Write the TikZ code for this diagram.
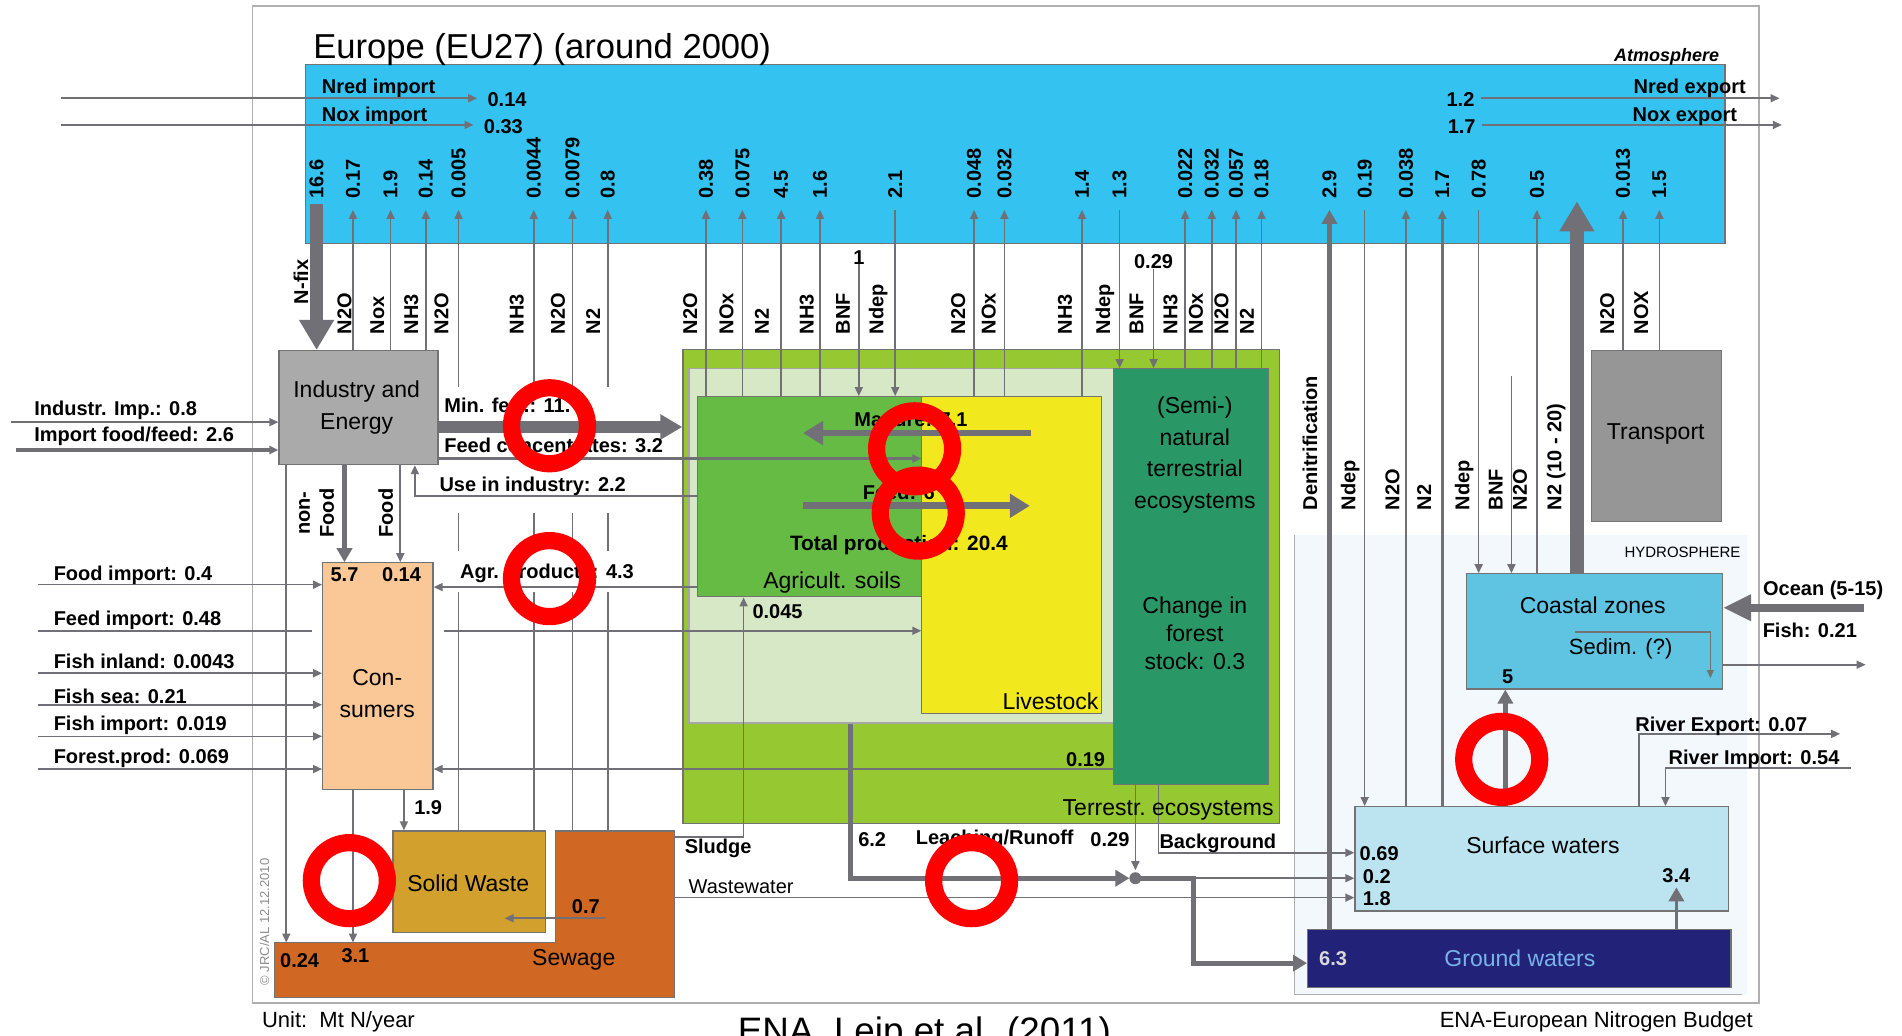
\documentclass[tikz,border=0pt]{standalone}
\usepackage{fontspec}
\setmainfont{Liberation Sans}
\usetikzlibrary{arrows.meta,fit}
\definecolor{atmblue}{RGB}{52,195,240}
\definecolor{indgray}{RGB}{170,170,170}
\definecolor{trgray}{RGB}{150,150,150}
\definecolor{flowgray}{RGB}{112,112,118}
\definecolor{consum}{RGB}{250,200,150}
\definecolor{waste}{RGB}{210,160,45}
\definecolor{sewage}{RGB}{208,104,36}
\definecolor{terr}{RGB}{150,200,50}
\definecolor{agpale}{RGB}{214,232,198}
\definecolor{soil}{RGB}{102,187,68}
\definecolor{livest}{RGB}{242,232,30}
\definecolor{seminat}{RGB}{42,152,102}
\definecolor{coast}{RGB}{95,196,225}
\definecolor{surfw}{RGB}{188,228,240}
\definecolor{groundw}{RGB}{34,34,120}
\definecolor{gwtext}{RGB}{120,180,235}
\definecolor{hydro}{RGB}{243,248,252}
\definecolor{framegray}{RGB}{175,175,175}
\definecolor{ringred}{RGB}{255,0,0}
\tikzset{
  box/.style   ={draw=black!55,line width=0.6pt,inner sep=0pt},
  fl/.style    ={draw=flowgray,line width=0.8pt},
  ar/.style    ={fl,-{Triangle[length=4.5pt,width=4pt]}},
  medar/.style ={draw=flowgray,line width=2.3pt,-{Triangle[length=7pt,width=7.5pt]}},
  fatar/.style ={draw=flowgray,line width=3.4pt,-{Triangle[length=10pt,width=11.5pt]}},
  fertar/.style={draw=flowgray,line width=5.6pt,-{Triangle[length=11pt,width=12pt]}},
  bigar/.style ={draw=flowgray,line width=6.6pt,-{Triangle[length=15pt,width=16.5pt]}},
  lbl/.style   ={font=\fontsize{10}{12}\selectfont\bfseries,inner sep=0pt},
  vlbl/.style  ={lbl,rotate=90,anchor=west},
  comic/.style ={font=\fontsize{11.5}{15.8}\selectfont,inner sep=0pt,align=center},
  ring/.style  ={draw=ringred,line width=8.6pt},
}
\begin{document}
\begin{tikzpicture}[x=0.6065pt,y=-0.6065pt]
\useasboundingbox (0,0) rectangle (1568,854);

% hydrosphere region and frame
\fill[hydro] (1067,441) rectangle (1440,820);
\draw[framegray,line width=0.6pt] (1067,441) -- (1067,820) -- (1436,820);
\draw[framegray,line width=0.8pt] (208,5) rectangle (1450,827);

% compartments
\node[fit={(252,53) (1422,201)},box,fill=atmblue] (atm) {};
\node[fit={(563,288) (1055,679)},box,fill=terr] (terr) {};
\node[fit={(568,304) (918,596)},box,draw=black!35,fill=agpale] (pale) {};
\node[fit={(575,327) (760,492)},box,fill=soil] (soil) {};
\node[fit={(760,327) (908,588)},box,fill=livest] (lvs) {};
\node[fit={(918,304) (1046,647)},box,fill=seminat] (semi) {};
\node[fit={(230,289) (361,383)},box,fill=indgray] (ind) {};
\node[fit={(1312,289) (1419,430)},box,fill=trgray] (trans) {};
\node[fit={(266,464) (357,651)},box,fill=consum] (cons) {};
\node[fit={(324,685) (450,769)},box,fill=waste] (sw) {};
\draw[box,fill=sewage] (226,777) -- (458,777) -- (458,685) -- (556,685)
  -- (556,822) -- (226,822) -- cycle;
\coordinate (sewtop) at (0,777);
\coordinate (sewR) at (556,0);
\node[fit={(1209,473) (1420,568)},box,fill=coast] (coast) {};
\node[fit={(1117,665) (1425,751)},box,fill=surfw] (surf) {};
\node[fit={(1078,766) (1427,814)},box,fill=groundw] (gw) {};

% emissions up into the atmosphere
\coordinate (tipY) at (0,173);
\foreach \x/\src in {291/ind,322/ind,351/ind,378/sw,440/sw,472/sw,501/sw,
    582/soil,612/soil,676/soil,803/lvs,828/lvs,892/lvs,977/semi,999/semi,
    1019/semi,1040/semi,1159/surf,1267/coast,1338/trans,1368/trans}
  \draw[ar] (\x,0 |- \src.north) -- (\x,0 |- tipY);
\draw[ar,line width=1.3pt] (644,0 |- soil.north) -- (644,0 |- tipY);
\draw[ar,line width=1.3pt] (1189,0 |- surf.north) -- (1189,0 |- tipY);
\draw[medar] (1096,0 |- gw.north) -- (1096,0 |- tipY);

% deposition and fixation down
\foreach \x/\dst in {738/soil,923/semi,1125/surf,1219/coast}
  \draw[ar] (\x,0 |- tipY) -- (\x,0 |- \dst.north);
\node[lbl] (bnfA) at (708,212) {1};
\node[lbl] (bnfB) at (951,216) {0.29};
\draw[ar] (bnfA.south) -- (bnfA.south |- soil.north);
\draw[ar] (bnfB.south) -- (bnfB.south |- semi.north);
\coordinate (bnfC) at (1246,310);
\draw[ar] (bnfC) -- (bnfC |- coast.north);
\coordinate (nfix) at (261,168);
\draw[bigar] (nfix) -- (nfix |- ind.north);
\coordinate (denit) at (1300,166);
\draw[bigar] (denit |- coast.north) -- (denit);

% gaps behind the industry labels
\fill[white] (364,319) rectangle (560,423);
\fill[white] (364,454) rectangle (560,488);

% values and species
\foreach \x/\v [count=\i] in {261/16.6,291/0.17,322/1.9,351/0.14,378/0.005,
    440/0.0044,472/0.0079,501/0.8,582/0.38,612/0.075,644/4.5,676/1.6,738/2.1,
    803/0.048,828/0.032,892/1.4,923/1.3,977/0.022,999/0.032,1019/0.057,
    1040/0.18,1096/2.9,1125/0.19,1159/0.038,1189/1.7,1219/0.78,1267/0.5,
    1338/0.013,1368/1.5}
  \node[vlbl] (v\i) at (\x,164) {\v};
\foreach \x/\t [count=\i] in {284/N2O,311/Nox,339/NH3,364/N2O,426/NH3,
    460/N2O,489/N2,569/N2O,599/NOx,628/N2,665/NH3,695/BNF,724/Ndep,790/N2O,
    815/NOx,878/NH3,911/Ndep,937/BNF,965/NH3,986/NOx,1007/N2O,1028/N2,
    1325/N2O,1353/NOX}
  \node[vlbl] (g\i) at (\x,276) {\t};
\foreach \x/\t [count=\i] in {1080/Denitrification,1113/Ndep,1148/N2O,
    1174/N2,1207/Ndep,1233/BNF,1253/N2O,1283/N2 (10 - 20)}
  \node[vlbl] (h\i) at (\x,421) {\t};
\node[vlbl] (nfixL) at (248,251) {N-fix};

% atmospheric import / export
\node[lbl,anchor=west] (lNredIn) at (265,73) {Nred import};
\node[lbl,anchor=west] (lNoxIn) at (265,96) {Nox import};
\node[lbl] (vNredIn) at (418,82) {0.14};
\node[lbl] (vNoxIn) at (415,104) {0.33};
\coordinate (nredIn) at (50,81);
\coordinate (noxIn) at (50,103);
\draw[ar,shorten >=5pt] (nredIn) -- (nredIn -| vNredIn.west);
\draw[ar,shorten >=5pt] (noxIn) -- (noxIn -| vNoxIn.west);
\node[lbl] (vNredOut) at (1204,82) {1.2};
\node[lbl] (vNoxOut) at (1205,104) {1.7};
\coordinate (nredOut) at (1467,81);
\coordinate (noxOut) at (1469,103);
\draw[ar,shorten <=3pt] (vNredOut.east |- nredOut) -- (nredOut);
\draw[ar,shorten <=3pt] (vNoxOut.east |- noxOut) -- (noxOut);
\node[lbl] (lNredOut) at (1393,73) {Nred export};
\node[lbl] (lNoxOut) at (1389,96) {Nox export};

% industry and energy
\coordinate (impA) at (9,348);
\coordinate (impB) at (13,371);
\draw[ar] (impA) -- (impA -| ind.west);
\draw[ar,line width=1.6pt] (impB) -- (impB -| ind.west);
\node[lbl,anchor=west] (lImpA) at (28,338) {Industr. Imp.: 0.8};
\node[lbl,anchor=west] (lImpB) at (28,360) {Import food/feed: 2.6};
\draw[fertar] (ind.east |- 0,352) -- (terr.west |- 0,352);
\draw[ar,line width=1.3pt] (ind.east |- 0,378) -- (lvs.west |- 0,378);
\draw[ar] (soil.west |- 0,409) -| (342,0 |- ind.south);
\node[lbl,anchor=west] (lFert) at (366,334) {Min. fert.: 11.};
\node[lbl,anchor=west] (lConc) at (366,367) {Feed concentrates: 3.2};
\node[lbl,anchor=west] (lUse) at (362,401) {Use in industry: 2.2};
\draw[medar] (284,0 |- ind.south) -- (284,0 |- cons.north);
\draw[ar] (330,0 |- ind.south) -- (330,0 |- cons.north);
\draw[ar] (236,0 |- ind.south) -- (236,0 |- sewtop);
\node[vlbl,anchor=center,align=center] (lNonFood) at (261,423) {non-\\Food};
\node[vlbl,anchor=center] (lFood) at (318,423) {Food};

% consumers
\foreach \y/\t [count=\i] in {482/Food import: 0.4,555/Fish inland: 0.0043,
    581/Fish sea: 0.21,607/Fish import: 0.019,634/Forest.prod: 0.069}
  \draw[ar] (31,\y) -- (cons.west |- 0,\y);
\coordinate (feedIn) at (31,520);
\draw[fl,shorten >=5pt] (feedIn) -- (feedIn -| cons.west);
\draw[ar,shorten <=5pt] (cons.east |- feedIn) -- (feedIn -| lvs.west);
\foreach \y/\t [count=\i] in {474/Food import: 0.4,511/Feed import: 0.48,
    545/Fish inland: 0.0043,574/Fish sea: 0.21,598/Fish import: 0.019,
    625/Forest.prod: 0.069}
  \node[lbl,anchor=west] (imp\i) at (44,\y) {\t};
\draw[ar] (soil.west |- 0,484) -- (cons.east |- 0,484);
\node[lbl,anchor=west] (lAgr) at (379,473) {Agr. products: 4.3};
\draw[ar] (semi.west |- 0,634) -- (cons.east |- 0,634);
\node[lbl] (v019) at (895,626) {0.19};
\node[lbl] (v57) at (284,474) {5.7};
\node[lbl] (v014) at (331,474) {0.14};
\draw[ar] (291,0 |- cons.south) -- (291,0 |- sewtop);
\draw[ar] (333,0 |- cons.south) -- (333,0 |- sw.north);
\node[lbl] (v19) at (353,666) {1.9};

% waste and sewage
\coordinate (sew07) at (499,757);
\draw[ar] (sew07) -- (416,0 |- sew07);
\node[lbl] (v07) at (483,747) {0.7};
\node[lbl] (v024) at (247,792) {0.24};
\node[lbl] (v31) at (293,788) {3.1};
\draw[ar] (sewR |- 0,690) -| (613,0 |- soil.south);
\draw[ar] (sewR |- 0,740) -- (surf.west |- 0,740);
\node[lbl] (lSludge) at (592,699) {Sludge};
\node[lbl,font=\fontsize{10}{12}\selectfont] (lWaste) at (611,731) {Wastewater};
\node[lbl] (v0045) at (641,504) {0.045};

% agriculture
\coordinate (manR) at (850,357);
\coordinate (manL) at (662,357);
\draw[fatar] (manR) -- (manL);
\coordinate (fdL) at (662,417);
\coordinate (fdR) at (849,417);
\draw[fatar] (fdL) -- (fdR);
\node[lbl] (lManure) at (751,346) {Manure: 7.1};
\node[lbl,anchor=west] (lFeed) at (711,406) {Feed: 6};
\node[lbl,font=\fontsize{10.4}{12}\selectfont\bfseries] (lTot) at (741,449) {Total production: 20.4};

% leaching and runoff
\coordinate (jn) at (936,724);
\draw[draw=flowgray,line width=2.6pt,-{Triangle[length=7pt,width=8pt]},shorten >=3pt]
  (701,0 |- pale.south) |- (jn);
\draw[ar,shorten >=4pt] (936,0 |- semi.south) -- (jn);
\coordinate (gwbend) at (984,794);
\draw[draw=flowgray,line width=2.6pt,-{Triangle[length=7pt,width=8pt]}]
  (jn) -| (gwbend) -- (gwbend -| gw.west);
\draw[ar] (jn) -- (jn -| surf.west);
\node[circle,fill=flowgray,inner sep=0pt,minimum size=6pt] (jdot) at (jn) {};
\draw[ar] (955,0 |- semi.south) |- (surf.west |- 0,703);
\node[lbl] (v62) at (719,692) {6.2};
\node[lbl] (lLeach) at (820,692) {Leaching/Runoff};
\node[lbl] (v029) at (915,692) {0.29};
\node[lbl] (lBack) at (1004,695) {Background};

% hydrosphere
\draw[medar,line width=2.6pt] (1241,0 |- surf.north) -- (1241,0 |- coast.south);
\node[lbl] (v5) at (1243,558) {5};
\node[lbl] (v34) at (1382,722) {3.4};
\draw[medar,line width=1.6pt,shorten >=2pt] (v34.south |- gw.north) -- (v34.south);
\coordinate (sedA) at (1298,521);
\coordinate (sedB) at (1410,559);
\draw[draw=black!55,line width=0.6pt,-{Triangle[length=4pt,width=3.5pt]}] (sedA) -| (sedB);
\coordinate (ocean) at (1537,501);
\draw[fatar,line width=3.8pt,-{Triangle[length=14pt,width=12.5pt]}] (ocean) -- (ocean -| coast.east);
\coordinate (fishOut) at (1538,548);
\draw[ar] (coast.east |- fishOut) -- (fishOut);
\coordinate (rvOut) at (1517,605);
\coordinate (rvIn) at (1526,633);
\draw[ar] (1351,0 |- surf.north) |- (rvOut);
\draw[ar] (rvIn) -| (1373,0 |- surf.north);
\node[lbl] (lOcean) at (1503,487) {Ocean (5-15)};
\node[lbl] (lFish) at (1492,520) {Fish: 0.21};
\node[lbl] (lRvOut) at (1419,599) {River Export: 0.07};
\node[lbl] (lRvIn) at (1446,626) {River Import: 0.54};
\node[lbl] (v069) at (1137,704) {0.69};
\node[lbl] (v02) at (1135,723) {0.2};
\node[lbl] (v18) at (1135,741) {1.8};
\node[lbl,text=black!15] (v63) at (1099,790) {6.3};

% compartment names
\node[comic,font=\fontsize{17.3}{20}\selectfont] (title) at (447,41) {Europe (EU27) (around 2000)};
\node[comic,font=\fontsize{9}{11}\selectfont\bfseries\itshape] (lAtm) at (1374,47) {Atmosphere};
\node[comic] (tInd) at (294,336) {Industry and\\Energy};
\node[comic] (tCons) at (311,572) {Con-\\sumers};
\node[comic] (tSw) at (386,728) {Solid Waste};
\node[comic] (tSew) at (473,791) {Sewage};
\node[comic] (tSoil) at (686,480) {Agricult. soils};
\node[comic] (tLvs) at (866,578) {Livestock};
\node[comic] (tSemi) at (985,375) {(Semi-)\\natural\\terrestrial\\ecosystems};
\node[comic,font=\fontsize{11.5}{14}\selectfont] (tForest) at (985,522) {Change in\\forest\\stock: 0.3};
\node[comic] (tTerr) at (963,668) {Terrestr.\ ecosystems};
\node[comic] (tTrans) at (1365,358) {Transport};
\node[comic,font=\fontsize{7.5}{9}\selectfont] (tHydro) at (1387,455) {HYDROSPHERE};
\node[comic] (tCoast) at (1313,499) {Coastal zones};
\node[lbl,font=\fontsize{11}{13}\selectfont] (tSed) at (1336,535) {Sedim. (?)};
\node[comic] (tSurf) at (1272,697) {Surface waters};
\node[comic,text=gwtext] (tGw) at (1253,790) {Ground waters};
\node[comic,font=\fontsize{6.5}{8}\selectfont,text=black!45,rotate=90] (tCopy) at (218,760) {\textcopyright\ JRC/AL 12.12.2010};
\node[comic,font=\fontsize{11}{13}\selectfont] (tUnit) at (279,842) {Unit:\ \ Mt N/year};
\node[comic,font=\fontsize{11}{13}\selectfont] (tEna) at (1316,842) {ENA-European Nitrogen Budget};
\node[anchor=base west,inner sep=0pt,font=\fontsize{18.4}{20}\selectfont] (tCite) at (608,860) {ENA, Leip et al. (2011)};

% red marks
\foreach \cx/\cy in {453/351,754/370,757/423,453/477,288/726,801/726,1238/626}
  \draw[ring] (\cx,\cy) circle[radius=19pt];
\end{tikzpicture}
\end{document}
